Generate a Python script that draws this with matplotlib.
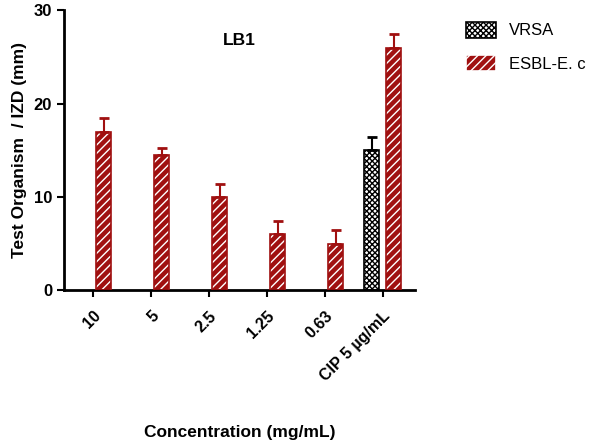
import numpy as np
import matplotlib.pyplot as plt
from matplotlib.patches import Patch

plt.rcParams['font.family'] = ['Liberation Sans', 'DejaVu Sans']
plt.rcParams['font.weight'] = 'bold'
plt.rcParams['hatch.linewidth'] = 1.0

categories = ['10', '5', '2.5', '1.25', '0.63', 'CIP 5 µg/mL']
esbl = [17.0, 14.5, 10.0, 6.0, 5.0, 26.0]
esbl_err = [1.4, 0.7, 1.4, 1.4, 1.4, 1.4]
vrsa = [0, 0, 0, 0, 0, 15.0]
vrsa_err = [0, 0, 0, 0, 0, 1.4]

red = '#a01010'
x = np.arange(len(categories))
w = 0.26
off = 0.19

fig = plt.figure(figsize=(6.09, 4.43), dpi=100)
ax = fig.add_axes([0.105, 0.345, 0.576, 0.632])

# VRSA (only drawn where there is a value)
vx = [xi - off for xi, v in zip(x, vrsa) if v > 0]
vv = [v for v in vrsa if v > 0]
ve = [e for v, e in zip(vrsa, vrsa_err) if v > 0]
ax.bar(vx, vv, w, facecolor='white', edgecolor='black', hatch='xxxxxx', linewidth=0, zorder=2)
ax.bar(vx, vv, w, facecolor='none', edgecolor='black', linewidth=1.2, zorder=3)
ax.errorbar(vx, vv, yerr=[np.zeros(len(ve)), ve], fmt='none', ecolor='black',
            elinewidth=1.5, capsize=3.5, capthick=2, zorder=3)

# ESBL-E. c
ax.bar(x + off, esbl, w, facecolor=red, edgecolor='white', hatch='////', linewidth=0, zorder=2)
ax.bar(x + off, esbl, w, facecolor='none', edgecolor=red, linewidth=1.2, zorder=3)
ax.errorbar(x + off, esbl, yerr=[np.zeros(len(esbl)), esbl_err], fmt='none', ecolor=red,
            elinewidth=1.5, capsize=3.5, capthick=2, zorder=3)

ax.set_xlim(-0.5, 5.55)
ax.set_ylim(0, 30)
ax.set_yticks([0, 10, 20, 30])
ax.set_xticks(x)
ax.set_xticklabels(categories, rotation=45, ha='right', va='top', rotation_mode='anchor',
                   fontsize=11.5, fontweight='bold')
for lab in ax.get_yticklabels():
    lab.set_fontsize(12)
    lab.set_fontweight('bold')
for s in ['top', 'right']:
    ax.spines[s].set_visible(False)
for s in ['left', 'bottom']:
    ax.spines[s].set_linewidth(2)
ax.tick_params(axis='both', width=1.5, length=5)
ax.tick_params(axis='x', pad=8)

ax.set_ylabel('Test Organism  / IZD (mm)', fontsize=12.5, fontweight='bold', labelpad=5)
ax.set_xlabel('Concentration (mg/mL)', fontsize=12.5, fontweight='bold', labelpad=30)
ax.text(0.5, 0.89, 'LB1', transform=ax.transAxes, ha='center', va='center',
        fontsize=12.5, fontweight='bold')

# legend
handles = [
    Patch(facecolor='white', edgecolor='black', hatch='xxxxxx', linewidth=1.2, label='VRSA'),
    Patch(facecolor=red, edgecolor='white', hatch='////', linewidth=1.2, label='ESBL-E. c'),
]
leg = fig.legend(handles=handles, loc='upper left', bbox_to_anchor=(0.74, 0.985),
                 frameon=False, fontsize=12, handlelength=1.8, handleheight=1.1,
                 labelspacing=1.0, handletextpad=0.8)
for t in leg.get_texts():
    t.set_fontweight('normal')

fig.savefig('out.png', dpi=100)
